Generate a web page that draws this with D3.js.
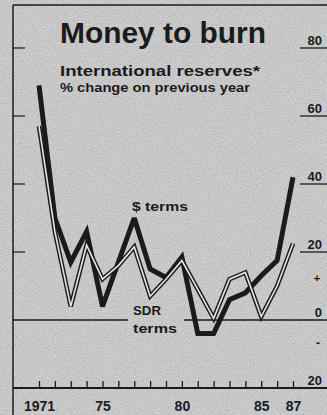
<!DOCTYPE html>
<html>
<head>
<meta charset="utf-8">
<script src="https://cdn.jsdelivr.net/npm/d3@7"></script>
<style>
  html, body { margin: 0; padding: 0; background: #c9c9c9; }
  svg { display: block; }
</style>
</head>
<body>
<div id="chart"></div>
<script>
// ---- data ----
const years = [1971,1972,1973,1974,1975,1976,1977,1978,1979,1980,1981,1982,1983,1984,1985,1986,1987];
const dollarTerms = [69, 30, 17, 26, 4, 17, 30, 15, 12.5, 18.5, -4, -4, 6, 8, 13, 17.5, 42];
const sdrTerms    = [57, 26, 4, 22, 12, 16, 21.5, 7, 12, 17.5, 9, 0.5, 12, 14, 1, 10, 22.5];
const xLabelYears = [1971, 1975, 1980, 1985, 1987];
const xTickLabels = ["1971", "75", "80", "85", "87"];
const yTickValues = [80, 60, 40, 20, 0, -20];
const yTickLabels = ["80", "60", "40", "20", "0", "20"];

const W = 327, H = 415;
const ink = "#1b1b1b";
const font = "Liberation Sans, Arial, Helvetica, sans-serif";
const svg = d3.select("#chart").append("svg").attr("width", W).attr("height", H);

// background with grain
const defs = svg.append("defs");
const f = defs.append("filter").attr("id", "grain").attr("x", 0).attr("y", 0).attr("width", 1).attr("height", 1);
f.append("feTurbulence").attr("type", "fractalNoise").attr("baseFrequency", 0.85).attr("numOctaves", 2).attr("seed", 7);
f.append("feColorMatrix").attr("type", "matrix")
  .attr("values", "1 0 0 0 0  1 0 0 0 0  1 0 0 0 0  0 0 0 0 0.32");
svg.append("rect").attr("width", W).attr("height", H).attr("fill", "#cdcdcd");
svg.append("rect").attr("width", W).attr("height", H).attr("filter", "url(#grain)");

const x = d3.scaleLinear().domain([1971, 1987]).range([39, 293]);
const y = d3.scaleLinear().domain([-20, 80]).range([388, 48]);

// frame: top and left
svg.append("line").attr("x1", 13).attr("x2", W).attr("y1", 5).attr("y2", 5).attr("stroke", ink).attr("stroke-width", 1.5);
svg.append("line").attr("x1", 13).attr("x2", 13).attr("y1", 5).attr("y2", H).attr("stroke", ink).attr("stroke-width", 1.5);

// left small ticks
[80, 60, 40, 20].forEach(v => {
  svg.append("line").attr("x1", 13).attr("x2", 25).attr("y1", y(v)).attr("y2", y(v))
    .attr("stroke", ink).attr("stroke-width", 1.2);
});

// right labels with underline segments
yTickValues.forEach((v, i) => {
  if (v > 0) {
    svg.append("line").attr("x1", 300).attr("x2", W).attr("y1", y(v)).attr("y2", y(v))
      .attr("stroke", ink).attr("stroke-width", 1.3);
  }
  svg.append("text").attr("x", 322).attr("y", y(v) - 3).attr("text-anchor", "end")
    .attr("font-family", font).attr("font-weight", "bold")
    .attr("font-size", 13).attr("fill", ink).text(yTickLabels[i]);
});
svg.append("text").attr("x", 317).attr("y", y(10) - 4).attr("text-anchor", "middle")
  .attr("font-family", font).attr("font-weight", "bold")
  .attr("font-size", 11).attr("fill", ink).text("+");
svg.append("text").attr("x", 318).attr("y", y(-10) - 7).attr("text-anchor", "middle")
  .attr("font-family", font).attr("font-weight", "bold")
  .attr("font-size", 12).attr("fill", ink).text("-");

// zero line with gap for the SDR label
svg.append("line").attr("x1", 13).attr("x2", 128).attr("y1", y(0)).attr("y2", y(0)).attr("stroke", ink).attr("stroke-width", 1.5);
svg.append("line").attr("x1", 184).attr("x2", W).attr("y1", y(0)).attr("y2", y(0)).attr("stroke", ink).attr("stroke-width", 1.5);

// bottom axis
const xAxis = d3.axisBottom(x).tickValues(years).tickSizeInner(-7).tickSizeOuter(0)
  .tickFormat(d => { const k = xLabelYears.indexOf(d); return k >= 0 ? xTickLabels[k] : ""; })
  .tickPadding(13);
const gx = svg.append("g").attr("transform", `translate(0,${y(-20)})`).call(xAxis);
gx.select(".domain").remove();
gx.selectAll(".tick line").attr("stroke", ink).attr("stroke-width", 1.3);
gx.selectAll(".tick text").attr("font-family", font)
  .attr("font-weight", "bold").attr("font-size", 14).attr("fill", ink);
svg.append("line").attr("x1", 13).attr("x2", W).attr("y1", y(-20)).attr("y2", y(-20)).attr("stroke", ink).attr("stroke-width", 1.8);

// lines
const line = d3.line().x((d, i) => x(years[i])).y(d => y(d));
svg.append("path").datum(dollarTerms).attr("d", line).attr("fill", "none")
  .attr("stroke", ink).attr("stroke-width", 5).attr("stroke-linejoin", "miter").attr("stroke-miterlimit", 3);
svg.append("path").datum(sdrTerms).attr("d", line).attr("fill", "none")
  .attr("stroke", ink).attr("stroke-width", 4.5).attr("stroke-linejoin", "miter").attr("stroke-miterlimit", 3);
svg.append("path").datum(sdrTerms).attr("d", line).attr("fill", "none")
  .attr("stroke", "#e4e4e4").attr("stroke-width", 1.6).attr("stroke-linejoin", "miter").attr("stroke-miterlimit", 3);

// titles
svg.append("text").attr("x", 60).attr("y", 43).attr("font-family", font).attr("font-weight", "bold")
  .attr("font-size", 29).attr("fill", ink).attr("textLength", 206).attr("lengthAdjust", "spacingAndGlyphs")
  .text("Money to burn");
svg.append("text").attr("x", 60).attr("y", 76).attr("font-family", font).attr("font-weight", "bold")
  .attr("font-size", 15).attr("fill", ink).attr("textLength", 200).attr("lengthAdjust", "spacingAndGlyphs")
  .text("International reserves*");
svg.append("text").attr("x", 60).attr("y", 92).attr("font-family", font).attr("font-weight", "bold")
  .attr("font-size", 12).attr("fill", ink).attr("textLength", 190).attr("lengthAdjust", "spacingAndGlyphs")
  .text("% change on previous year");

// series labels
svg.append("text").attr("x", 132).attr("y", 211).attr("font-family", font).attr("font-weight", "bold")
  .attr("font-size", 12).attr("fill", ink).attr("textLength", 56).attr("lengthAdjust", "spacingAndGlyphs")
  .text("$ terms");
svg.append("text").attr("x", 133).attr("y", 315).attr("font-family", font).attr("font-weight", "bold")
  .attr("font-size", 12).attr("fill", ink).attr("textLength", 28).attr("lengthAdjust", "spacingAndGlyphs")
  .text("SDR");
svg.append("text").attr("x", 133).attr("y", 333).attr("font-family", font).attr("font-weight", "bold")
  .attr("font-size", 12).attr("fill", ink).attr("textLength", 44).attr("lengthAdjust", "spacingAndGlyphs")
  .text("terms");
</script>
</body>
</html>
